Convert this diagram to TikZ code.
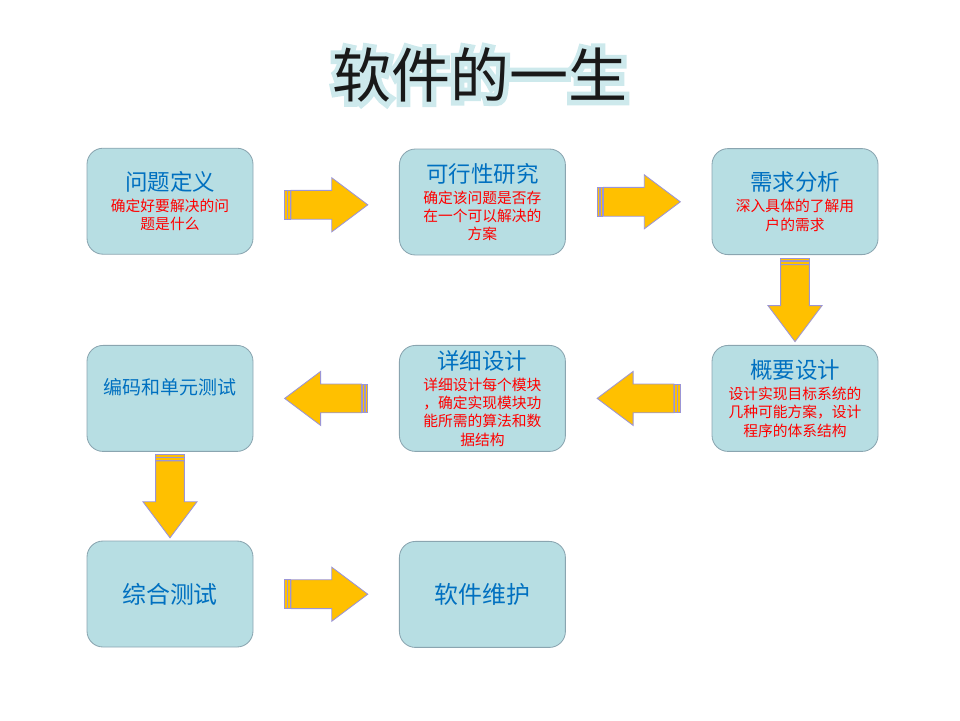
\documentclass[tikz,border=0pt]{standalone}
\usepackage{fontspec}
\newfontfamily\cjk{Noto Sans CJK SC}
\newfontfamily\cjkglow[FakeBold=16]{Noto Sans CJK SC}
\usepackage{tikz}
\usetikzlibrary{calc}
\tikzset{>=latex}
\definecolor{boxfill}{HTML}{B7DEE3}
\definecolor{boxline}{HTML}{8AA5B0}
\definecolor{headblue}{HTML}{0070C0}
\definecolor{arrowfill}{HTML}{FFC000}
\definecolor{arrowline}{HTML}{9B95D6}
\definecolor{glow}{HTML}{CDE9EC}
\tikzset{
  stage/.style={draw=boxline, fill=boxfill, line width=0.6pt, rounded corners=0.4cm,
    minimum width=4.15cm, minimum height=2.65cm, align=center,
    font=\cjk\fontsize{10.5}{13}\selectfont, text=red},
  barrow/.pic={
    \draw[draw=arrowline, fill=arrowfill, line width=0.6pt] (-0.88,-0.36) -- (0.14,-0.36) -- (0.14,-0.675) -- (1.04,0) -- (0.14,0.675) -- (0.14,0.36) -- (-0.88,0.36) -- cycle;
    \draw[draw=arrowline, fill=arrowfill, line width=0.6pt] (-1.04,-0.36) rectangle (-0.98,0.36);
    \draw[draw=arrowline, fill=arrowfill, line width=0.6pt] (-0.96,-0.36) rectangle (-0.90,0.36);
  }
}
\newcommand\stagehead[2][16]{{\fontsize{#1}{#1}\selectfont\color{headblue}#2}}

\begin{document}
\begin{tikzpicture}
\useasboundingbox (0,0) rectangle (24,-18);

% title with glow
\node[text=glow, font=\cjkglow\fontsize{42}{42}\selectfont] (titleglow) at (12,-1.88) {软件的一生};
\node[text=black!90, font=\cjk\fontsize{42}{42}\selectfont] (title) at (titleglow) {软件的一生};

% stages
\node[stage] (define) at (4.25,-5.03) {\stagehead{问题定义}\\[2pt] 确定好要解决的问\\ 题是什么};
\node[stage] (feasible) at (12.06,-5.05) {\stagehead{可行性研究}\\[2pt] 确定该问题是否存\\ 在一个可以解决的\\ 方案};
\node[stage] (require) at (19.875,-5.04) {\stagehead{需求分析}\\[2pt] 深入具体的了解用\\ 户的需求};
\node[stage] (outline) at (19.875,-9.96) {\stagehead{概要设计}\\[2pt] 设计实现目标系统的\\ 几种可能方案，设计\\ 程序的体系结构};
\node[stage] (detail) at (12.06,-9.96) {\stagehead{详细设计}\\[2pt] 详细设计每个模块\\ ，确定实现模块功\\ 能所需的算法和数\\ 据结构};
\node[stage, text depth=0.6cm] (coding) at (4.25,-9.96) {\stagehead[13.5]{编码和单元测试}};
\node[stage] (testing) at (4.25,-14.85) {\stagehead[17]{综合测试}};
\node[stage] (maintain) at (12.06,-14.86) {\stagehead[17]{软件维护}};

% block arrows
\pic at ($(define.east)!0.5!(feasible.west)+(0,-0.08)$) {barrow};
\pic at ($(feasible.east)!0.5!(require.west)$) {barrow};
\pic[rotate=-90] at ($(require.south)!0.5!(outline.north)$) {barrow};
\pic[rotate=180] at ($(outline.west)!0.5!(detail.east)$) {barrow};
\pic[rotate=180] at ($(detail.west)!0.5!(coding.east)$) {barrow};
\pic[rotate=-90] at ($(coding.south)!0.5!(testing.north)$) {barrow};
\pic at ($(testing.east)!0.5!(maintain.west)$) {barrow};

\end{tikzpicture}
\end{document}
